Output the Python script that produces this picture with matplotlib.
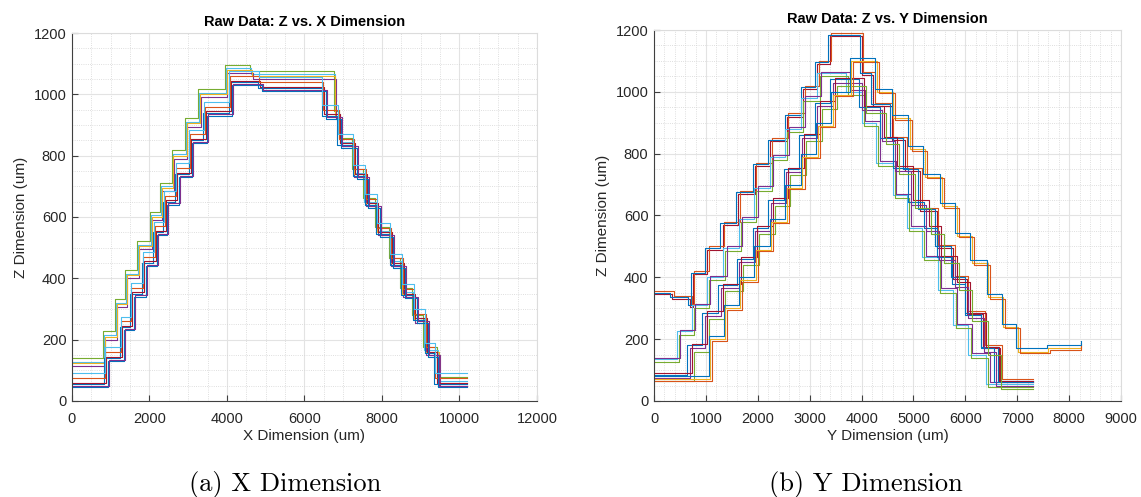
import matplotlib.pyplot as plt
from matplotlib.ticker import MultipleLocator

# MATLAB default colour order
BLUE, ORANGE, YELLOW, PURPLE = '#0072BD', '#D95319', '#EDB120', '#7E2F8E'
GREEN, CYAN, DARKRED = '#77AC30', '#4DBEEE', '#A2142F'

# ---- X scan: step edges (um) and step levels (um), two families ----
x_hi_edges = [0, 800, 1110, 1370, 1680, 2015, 2270, 2575, 2920, 3260, 3950, 4600,
              6750, 6880, 7230, 7520, 7830, 8170, 8470, 8780, 9070, 9430, 10200]
x_hi_levels = [128, 215, 320, 415, 510, 605, 700, 805, 910, 1005, 1085, 1065,
               935, 845, 745, 650, 555, 455, 355, 270, 165, 65, 65]
x_lo_edges = [0, 830, 1240, 1500, 1810, 2100, 2360, 2660, 3010, 3390, 4040, 4800,
              6450, 6850, 7250, 7550, 7850, 8200, 8500, 8800, 9100, 9350, 10200]
x_lo_levels = [55, 140, 240, 350, 450, 550, 650, 740, 850, 940, 1040, 1020,
               930, 835, 735, 640, 545, 445, 345, 265, 155, 55, 55]

# per-trace family, shift along scan, level offset, colour
x_traces = [
    ('hi', 0, 12, GREEN), ('hi', 25, 0, CYAN), ('hi', 60, -15, PURPLE), ('hi', 40, -5, YELLOW),
    ('lo', 0, 0, BLUE), ('lo', 60, 5, DARKRED), ('lo', 30, 20, ORANGE),
    ('lo', 95, -10, BLUE), ('lo', 120, -5, PURPLE), ('lo', 15, 35, CYAN),
]

# ---- Y scan: four families ----
y_a_edges = [0, 350, 700, 745, 1020, 1320, 1620, 1940, 2240, 2560, 2870, 3140, 3390,
             4000, 4220, 4580, 4840, 5130, 5450, 5770, 6030, 6340, 6670, 7300]
y_a_levels = [345, 330, 305, 410, 490, 570, 670, 760, 840, 920, 1010, 1090, 1180,
              1055, 955, 845, 745, 615, 495, 395, 280, 170, 60, 60]
y_b_edges = [0, 435, 725, 1015, 1330, 1630, 1930, 2230, 2530, 2830, 3150, 3700, 4000,
             4280, 4600, 4880, 5170, 5470, 5770, 6060, 6400, 7300]
y_b_levels = [135, 225, 310, 400, 495, 590, 690, 790, 880, 980, 1060, 1000, 900,
              770, 665, 560, 465, 360, 245, 150, 55, 55]
y_c_edges = [0, 640, 930, 1240, 1590, 1900, 2200, 2500, 2800, 3100, 3400, 3950,
             4350, 4600, 4900, 5200, 5450, 5750, 6000, 6300, 6550, 7300]
y_c_levels = [85, 180, 285, 375, 460, 560, 650, 750, 860, 965, 1040, 950,
              850, 755, 645, 560, 465, 380, 278, 170, 60, 60]
y_d_edges = [0, 1080, 1370, 1660, 1960, 2260, 2560, 2860, 3160, 3450, 3800, 4290,
             4610, 4930, 5220, 5545, 5830, 6120, 6440, 6730, 7010, 7600, 8220]
y_d_levels = [70, 200, 300, 390, 490, 580, 690, 790, 890, 990, 1100, 1000,
              915, 815, 725, 630, 535, 445, 335, 240, 160, 170, 185]

y_traces = [
    ('a', 0, 0, DARKRED), ('a', 30, 10, ORANGE), ('a', -40, 5, BLUE),
    ('b', 0, 0, CYAN), ('b', 40, -10, GREEN), ('b', 70, 5, PURPLE),
    ('c', 0, 0, BLUE), ('c', 50, -10, PURPLE), ('c', 90, 5, DARKRED), ('c', 130, -20, GREEN),
    ('d', 0, 0, YELLOW), ('d', 40, -5, ORANGE), ('d', -30, 10, BLUE),
]

x_families = {'hi': (x_hi_edges, x_hi_levels), 'lo': (x_lo_edges, x_lo_levels)}
y_families = {'a': (y_a_edges, y_a_levels), 'b': (y_b_edges, y_b_levels),
              'c': (y_c_edges, y_c_levels), 'd': (y_d_edges, y_d_levels)}

plt.rcParams['font.family'] = ['Liberation Sans', 'DejaVu Sans']


def draw_traces(ax, traces, families):
    for fam, dx, dz, col in traces:
        edges, levels = families[fam]
        # first and last edge stay put, inner step edges move with the trace
        xs = [edges[0]] + [e + dx for e in edges[1:-1]] + [edges[-1]]
        ax.step(xs, [v + dz for v in levels], where='post', color=col, linewidth=0.8)


def style_axes(ax, xmax, xmajor, xminor, xlabel, title):
    ax.set_xlim(0, xmax)
    ax.set_ylim(0, 1200)
    ax.xaxis.set_major_locator(MultipleLocator(xmajor))
    ax.xaxis.set_minor_locator(MultipleLocator(xminor))
    ax.yaxis.set_major_locator(MultipleLocator(200))
    ax.yaxis.set_minor_locator(MultipleLocator(50))
    ax.grid(True, which='major', color='#e3e3e3', linewidth=0.8)
    ax.grid(True, which='minor', color='#d4d4d4', linestyle=':', linewidth=0.6)
    ax.set_axisbelow(True)
    ax.tick_params(which='both', direction='in', colors='#404040', labelsize=10.5,
                   labelcolor='#262626')
    ax.tick_params(which='major', length=4)
    ax.tick_params(which='minor', length=0)
    ax.tick_params(axis='x', pad=8)
    ax.tick_params(axis='y', pad=4)
    for side in ('left', 'bottom'):
        ax.spines[side].set_color('#404040')
        ax.spines[side].set_linewidth(0.8)
    for side in ('top', 'right'):
        ax.spines[side].set_color('#dcdcdc')
    ax.set_xlabel(xlabel, fontsize=11, color='#262626', labelpad=2)
    ax.set_ylabel('Z Dimension (um)', fontsize=11, color='#262626', labelpad=4)
    ax.set_title(title, fontsize=10.5, fontweight='bold', pad=5)


fig = plt.figure(figsize=(11.41, 4.97), dpi=100, facecolor='white')
ax1 = fig.add_axes([0.0631, 0.1932, 0.4075, 0.7404])
ax2 = fig.add_axes([0.5732, 0.1932, 0.4093, 0.7464])

draw_traces(ax1, x_traces, x_families)
draw_traces(ax2, y_traces, y_families)

style_axes(ax1, 12000, 2000, 500, 'X Dimension (um)', 'Raw Data: Z vs. X Dimension')
style_axes(ax2, 9000, 1000, 200, 'Y Dimension (um)', 'Raw Data: Z vs. Y Dimension')

fig.text(0.2498, 0.012, '(a) X Dimension', family='cmr10', fontsize=19,
         ha='center', va='baseline')
fig.text(0.7585, 0.012, '(b) Y Dimension', family='cmr10', fontsize=19,
         ha='center', va='baseline')

fig.savefig('out.png', dpi=100, facecolor='white')
